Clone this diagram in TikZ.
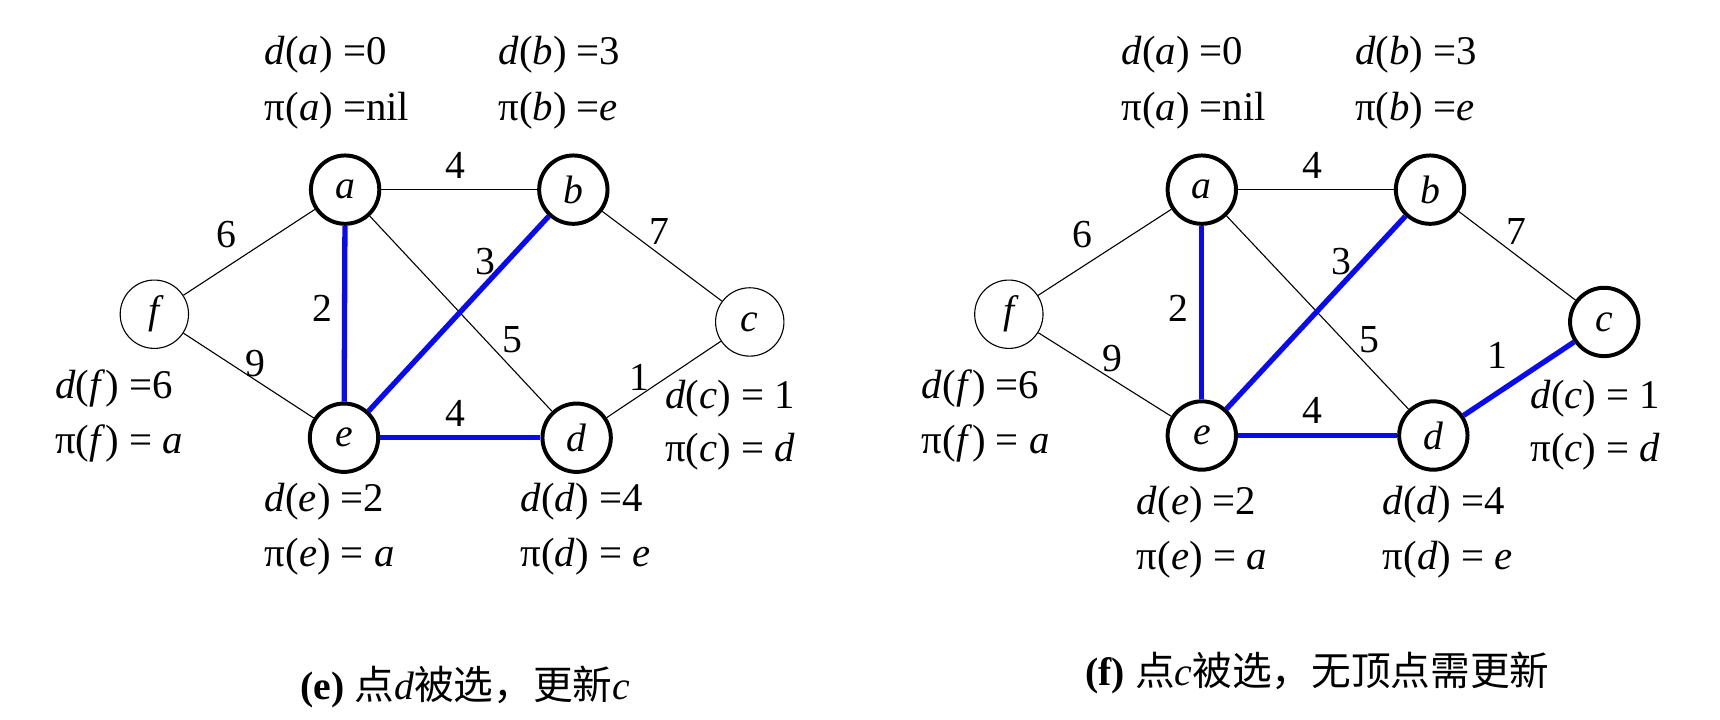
\documentclass[tikz,border=0pt]{standalone}
\usepackage{fontspec}
\setmainfont{Liberation Serif}
\newfontfamily\cjk{Noto Sans CJK SC}
\begin{document}
\begin{tikzpicture}[x=1pt,y=-1pt,
  vtx/.style={circle,draw,line width=3.6pt,minimum size=62pt,inner sep=0pt,font=\fontsize{36}{36}\selectfont\itshape},
  vthin/.style={circle,draw,line width=1pt,minimum size=62pt,inner sep=0pt,font=\fontsize{36}{36}\selectfont\itshape},
  lbl/.style={font=\fontsize{37}{37}\selectfont,anchor=west,inner sep=0pt},
  wt/.style={font=\fontsize{36}{36}\selectfont,inner sep=0pt},
  ed/.style={line width=1pt},
  tr/.style={line width=4.8pt,draw={rgb,255:red,10;green,10;blue,240}},
  captext/.style={font=\fontsize{36}{36}\selectfont,inner sep=0pt}]
\useasboundingbox (0,0) rectangle (1560,653);
% ---------- panel (e)
\node[vtx] (a1) at (313,172) {a};
\node[vtx] (b1) at (520,172) {b};
\node[vthin] (c1) at (680,292) {c};
\node[vtx] (d1) at (523,397) {d};
\node[vtx] (e1) at (312,397) {e};
\node[vthin] (f1) at (140,285) {f};
\draw[ed] (a1)--(b1); \draw[ed] (a1)--(f1); \draw[ed] (a1)--(d1);
\draw[ed] (b1)--(c1); \draw[ed] (f1)--(e1); \draw[ed] (d1)--(c1);
\draw[tr] (a1)--(e1); \draw[tr] (e1)--(b1); \draw[tr] (e1)--(d1);
\node[wt] (w1) at (413,150) {4}; \node[wt] (w2) at (205,213) {6};
\node[wt] (w3) at (598,210) {7}; \node[wt] (w4) at (440,237) {3};
\node[wt] (w5) at (292,280) {2}; \node[wt] (w6) at (465,308) {5};
\node[wt] (w7) at (232,330) {9}; \node[wt] (w8) at (580,342) {1};
\node[wt] (w9) at (413,375) {4};
\node[lbl] (t1) at (240,50) {\textit{d}(\textit{a}) =0};
\node[lbl] (t2) at (240,100) {π(\textit{a}) =nil};
\node[lbl] (t3) at (452,50) {\textit{d}(\textit{b}) =3};
\node[lbl] (t4) at (452,100) {π(\textit{b}) =\textit{e}};
\node[lbl] (t5) at (50,352) {\textit{d}(\textit{f}) =6};
\node[lbl] (t6) at (50,402) {π(\textit{f}) = \textit{a}};
\node[lbl] (t7) at (240,455) {\textit{d}(\textit{e}) =2};
\node[lbl] (t8) at (240,505) {π(\textit{e}) = \textit{a}};
\node[lbl] (t9) at (472,455) {\textit{d}(\textit{d}) =4};
\node[lbl] (t10) at (472,505) {π(\textit{d}) = \textit{e}};
\node[lbl] (t11) at (603,362) {\textit{d}(\textit{c}) = 1};
\node[lbl] (t12) at (603,410) {π(\textit{c}) = \textit{d}};
\node[captext] (cp1) at (422,623) {\textbf{(e)} {\cjk 点}\textit{d}{\cjk 被选，更新}\textit{c}};
% ---------- panel (f)
\node[vtx] (a2) at (1090,172) {a};
\node[vtx] (b2) at (1297,172) {b};
\node[vtx] (c2) at (1455,292) {c};
\node[vtx] (d2) at (1300,395) {d};
\node[vtx] (e2) at (1090,395) {e};
\node[vthin] (f2) at (915,285) {f};
\draw[ed] (a2)--(b2); \draw[ed] (a2)--(f2); \draw[ed] (a2)--(d2);
\draw[ed] (b2)--(c2); \draw[ed] (f2)--(e2);
\draw[tr] (a2)--(e2); \draw[tr] (e2)--(b2); \draw[tr] (e2)--(d2); \draw[tr] (d2)--(c2);
\node[wt] (x1) at (1190,150) {4}; \node[wt] (x2) at (982,213) {6};
\node[wt] (x3) at (1375,210) {7}; \node[wt] (x4) at (1217,237) {3};
\node[wt] (x5) at (1069,280) {2}; \node[wt] (x6) at (1242,308) {5};
\node[wt] (x7) at (1009,325) {9}; \node[wt] (x8) at (1358,322) {1};
\node[wt] (x9) at (1190,372) {4};
\node[lbl] (s1) at (1017,50) {\textit{d}(\textit{a}) =0};
\node[lbl] (s2) at (1017,100) {π(\textit{a}) =nil};
\node[lbl] (s3) at (1229,50) {\textit{d}(\textit{b}) =3};
\node[lbl] (s4) at (1229,100) {π(\textit{b}) =\textit{e}};
\node[lbl] (s5) at (836,352) {\textit{d}(\textit{f}) =6};
\node[lbl] (s6) at (836,402) {π(\textit{f}) = \textit{a}};
\node[lbl] (s7) at (1031,458) {\textit{d}(\textit{e}) =2};
\node[lbl] (s8) at (1031,508) {π(\textit{e}) = \textit{a}};
\node[lbl] (s9) at (1254,458) {\textit{d}(\textit{d}) =4};
\node[lbl] (s10) at (1254,508) {π(\textit{d}) = \textit{e}};
\node[lbl] (s11) at (1388,362) {\textit{d}(\textit{c}) = 1};
\node[lbl] (s12) at (1388,410) {π(\textit{c}) = \textit{d}};
\node[captext] (cp2) at (1195,610) {\textbf{(f)} {\cjk 点}\textit{c}{\cjk 被选，无顶点需更新}};
\end{tikzpicture}
\end{document}
